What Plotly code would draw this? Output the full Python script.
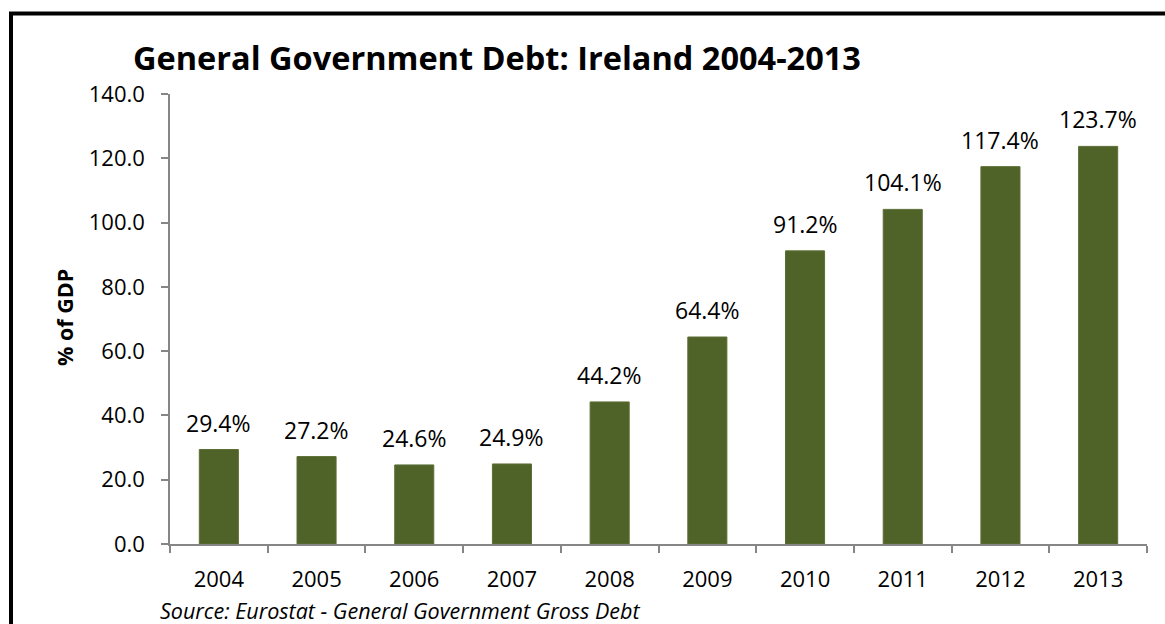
import plotly.graph_objects as go

years = ["2004", "2005", "2006", "2007", "2008", "2009", "2010", "2011", "2012", "2013"]
debt_pct_gdp = [29.4, 27.2, 24.6, 24.9, 44.2, 64.4, 91.2, 104.1, 117.4, 123.7]
title_text = "General Government Debt: Ireland 2004-2013"
y_title = "% of GDP"
source_text = "Source: Eurostat - General Government Gross Debt"

FONT = "Open Sans"
W, H = 1165, 624
L, R, T, B = 170, 18, 94, 80
pw, ph = W - L - R, H - T - B

def px(x):
    return (x - L) / pw

def py(y):
    return (H - B - y) / ph

fig = go.Figure()
fig.add_trace(go.Bar(
    x=years, y=debt_pct_gdp,
    marker=dict(color="#4F6228", line=dict(color="#5C6F36", width=1)),
    width=0.4,
    hoverinfo="x+y",
))

annotations = []
for i, v in enumerate(debt_pct_gdp):
    annotations.append(dict(
        x=i, y=v, xref="x", yref="y", text=f"{v:.1f}%", showarrow=False,
        yanchor="middle", yshift=27, font=dict(family=FONT, size=23, color="#000"),
    ))
annotations.append(dict(
    x=px(497), y=py(57), xref="paper", yref="paper", text=f"<b>{title_text}</b>",
    showarrow=False, xanchor="center", yanchor="middle",
    font=dict(family=FONT, size=32.5, color="#000"),
))
annotations.append(dict(
    x=px(64), y=py(318), xref="paper", yref="paper", text=f"<b>{y_title}</b>",
    showarrow=False, textangle=-90, xanchor="center", yanchor="middle",
    font=dict(family=FONT, size=21.5, color="#000"),
))
annotations.append(dict(
    x=px(158), y=py(610), xref="paper", yref="paper", text=f"<i>{source_text}</i>",
    showarrow=False, xanchor="left", yanchor="middle",
    font=dict(family=FONT, size=21.5, color="#000"),
))

fig.update_layout(
    width=W, height=H,
    margin=dict(l=L, r=R, t=T, b=B, autoexpand=False),
    paper_bgcolor="white", plot_bgcolor="white",
    showlegend=False,
    annotations=annotations,
    shapes=[dict(
        type="rect", xref="paper", yref="paper",
        x0=px(11), x1=1.2, y0=-0.4, y1=py(13.5),
        line=dict(color="black", width=4), fillcolor="rgba(0,0,0,0)", layer="above",
    )],
    font=dict(family=FONT, color="#000"),
)
fig.update_xaxes(
    type="category", range=[-0.5, 9.5], showline=True, linecolor="#868686", linewidth=1.5,
    ticks="outside", tickson="boundaries", ticklen=7, tickcolor="#868686", tickwidth=1.5,
    tickfont=dict(family=FONT, size=22, color="#000"), ticklabelstandoff=15, tickangle=0,
    showgrid=False, zeroline=False,
)
fig.update_yaxes(
    range=[0, 140], dtick=20, tickformat=".1f", showline=True, linecolor="#868686", linewidth=1.5,
    ticks="outside", ticklen=7, tickcolor="#868686", tickwidth=1.5,
    tickfont=dict(family=FONT, size=22, color="#000"), ticklabelstandoff=12,
    showgrid=False, zeroline=False,
)

fig.write_html("out.html")
